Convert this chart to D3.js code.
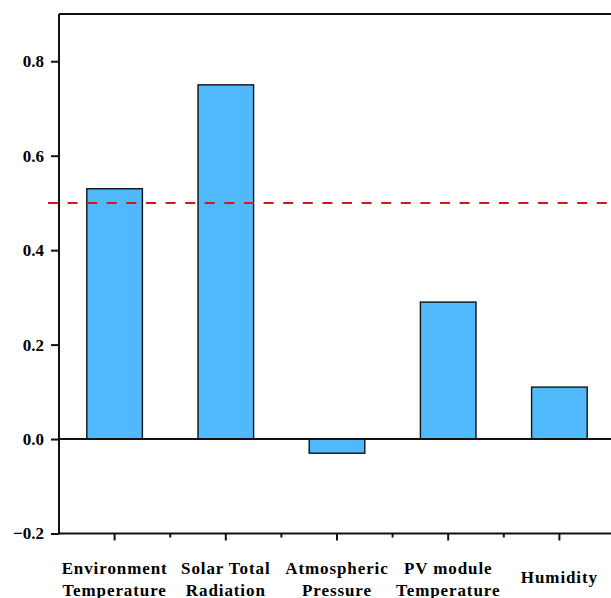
<!DOCTYPE html>
<html>
<head>
<meta charset="utf-8">
<script src="https://cdn.jsdelivr.net/npm/d3@7"></script>
<style>
  html, body { margin: 0; padding: 0; background: #fff; overflow: hidden; }
  svg { display: block; }
  text { font-family: "Liberation Serif", "Times New Roman", serif; font-weight: bold; fill: #000; }
</style>
</head>
<body>
<div id="chart"></div>
<script>
// Correlation of each factor with PV output
const categories = ["Environment Temperature", "Solar Total Radiation", "Atmospheric Pressure", "PV module Temperature", "Humidity"];
const values = [0.53, 0.75, -0.03, 0.29, 0.11];
const yTicks = [-0.2, 0.0, 0.2, 0.4, 0.6, 0.8];
const threshold = 0.5;

const W = 611, H = 598;
const plotLeft = 59, plotRight = 615, plotTop = 14, plotBottom = 533.5;

const svg = d3.select("#chart").append("svg").attr("width", W).attr("height", H);

const x = d3.scaleBand().domain(categories).range([plotLeft, plotRight]).padding(0);
const y = d3.scaleLinear().domain([-0.2, 0.9]).range([plotBottom, plotTop]);

const barColor = "#50b9fc";
const barW = x.bandwidth() * 0.5;

// bars
svg.append("g").selectAll("rect").data(categories).join("rect")
  .attr("x", d => x(d) + (x.bandwidth() - barW) / 2)
  .attr("width", barW)
  .attr("y", (d, i) => y(Math.max(0, values[i])))
  .attr("height", (d, i) => Math.abs(y(values[i]) - y(0)))
  .attr("fill", barColor)
  .attr("stroke", "#111")
  .attr("stroke-width", 1.4);

// zero line
svg.append("line")
  .attr("x1", plotLeft).attr("x2", W)
  .attr("y1", y(0)).attr("y2", y(0))
  .attr("stroke", "#111").attr("stroke-width", 2);

// threshold dashed line
svg.append("line")
  .attr("x1", 48).attr("x2", W)
  .attr("y1", y(threshold)).attr("y2", y(threshold))
  .attr("stroke", "#cc1a1a").attr("stroke-width", 2)
  .attr("stroke-dasharray", "10,9.6");

// top frame
svg.append("line")
  .attr("x1", plotLeft).attr("x2", W)
  .attr("y1", plotTop).attr("y2", plotTop)
  .attr("stroke", "#111").attr("stroke-width", 2);

// y axis
const yAxis = d3.axisLeft(y).tickValues(yTicks).tickFormat(d3.format(".1f"))
  .tickSize(8).tickPadding(7);
const gy = svg.append("g").attr("transform", `translate(${plotLeft},0)`).call(yAxis);
gy.select(".domain").attr("d", `M0,${plotTop}V${plotBottom}`).attr("stroke", "#111").attr("stroke-width", 2);
gy.selectAll(".tick line").attr("stroke", "#111").attr("stroke-width", 2);
gy.selectAll(".tick text")
  .style("font-family", '"Liberation Serif", "Times New Roman", serif')
  .style("font-weight", "bold").style("font-size", "17px").attr("fill", "#000");

// x axis (bottom)
const xAxis = d3.axisBottom(x).tickSize(7).tickFormat("");
const gx = svg.append("g").attr("transform", `translate(0,${plotBottom})`).call(xAxis);
gx.select(".domain").attr("d", `M${plotLeft},0H${W}`).attr("stroke", "#111").attr("stroke-width", 2);
gx.selectAll(".tick line").attr("stroke", "#111").attr("stroke-width", 2);

// minor ticks at category boundaries
svg.append("g").attr("transform", `translate(0,${plotBottom})`)
  .selectAll("line").data(categories.slice(1)).join("line")
  .attr("x1", d => x(d)).attr("x2", d => x(d))
  .attr("y1", 0).attr("y2", 4)
  .attr("stroke", "#111").attr("stroke-width", 2);

// category labels, last word on the second line
const labels = svg.append("g").selectAll("text").data(categories).join("text")
  .attr("text-anchor", "middle")
  .style("font-size", "17px")
  .style("letter-spacing", "0.9px");
labels.each(function(d) {
  const words = d.split(" ");
  const cx = x(d) + x.bandwidth() / 2;
  const t = d3.select(this);
  if (words.length === 1) {
    t.append("tspan").attr("x", cx).attr("y", 583).text(d);
  } else {
    t.append("tspan").attr("x", cx).attr("y", 574).text(words.slice(0, -1).join(" "));
    t.append("tspan").attr("x", cx).attr("y", 596).text(words[words.length - 1]);
  }
});
</script>
</body>
</html>
